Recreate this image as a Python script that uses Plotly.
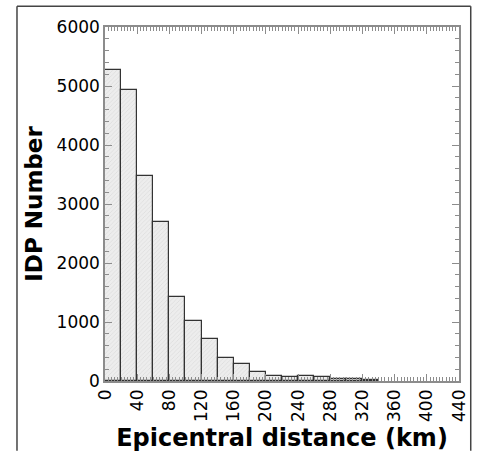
import plotly.graph_objects as go

bin_start = [0, 20, 40, 60, 80, 100, 120, 140, 160, 180, 200, 220, 240, 260, 280, 300, 320]
counts = [5270, 4930, 3480, 2700, 1430, 1010, 717, 383, 280, 148, 92, 72, 88, 62, 38, 30, 10]
bin_width = 20
x_ticks = [0, 40, 80, 120, 160, 200, 240, 280, 320, 360, 400, 440]
y_ticks = [0, 1000, 2000, 3000, 4000, 5000, 6000]

centers = [s + bin_width / 2 for s in bin_start]

fig = go.Figure()
fig.add_trace(go.Bar(
    x=centers, y=counts, width=[bin_width] * len(centers),
    marker=dict(
        color="#ececec",
        line=dict(color="#333333", width=1.2),
        pattern=dict(shape="/", fgcolor="#c4c4c4", bgcolor="#ededed", size=3, solidity=0.2),
    ),
    showlegend=False,
))

font_family = "DejaVu Sans"
axis_common = dict(
    showgrid=False, zeroline=False, showline=True, linecolor="#8c8c8c", linewidth=1.5,
    mirror="ticks", ticks="inside", ticklen=7, tickwidth=1.2, tickcolor="#8c8c8c",
    tickfont=dict(family=font_family, size=17, color="black"),
)

fig.update_xaxes(
    range=[0, 440], tickvals=x_ticks, tickangle=-90,
    minor=dict(ticks="inside", ticklen=4, dtick=4, tickcolor="#8c8c8c", tickwidth=1),
    title=dict(text="<b>Epicentral distance (km)</b>", font=dict(family=font_family, size=24, color="black"), standoff=8),
    **axis_common,
)
fig.update_yaxes(
    range=[0, 6000], tickvals=y_ticks,
    minor=dict(ticks="inside", ticklen=4, dtick=200, tickcolor="#8c8c8c", tickwidth=1),
    title=dict(text="<b>IDP Number</b>", font=dict(family=font_family, size=23, color="black"), standoff=8),
    **axis_common,
)

# outer frame (partial, cropped figure) - kept inside the figure bounds
W_PLOT, H_PLOT, L, T = 362, 360, 105, 27
def px(x):
    return (x - L) / W_PLOT
def py(y):
    return (T + H_PLOT - y) / H_PLOT

frame = dict(color="#444444", width=1.5)
fig.add_shape(type="line", xref="paper", yref="paper", x0=px(15), x1=px(15), y0=py(458), y1=py(6), line=frame)
fig.add_shape(type="line", xref="paper", yref="paper", x0=px(15), x1=px(479), y0=py(6), y1=py(6), line=frame)
fig.add_shape(type="line", xref="paper", yref="paper", x0=px(479), x1=px(479), y0=py(6), y1=py(458), line=frame)

fig.update_layout(
    width=481, height=459,
    margin=dict(l=105, r=14, t=27, b=72),
    plot_bgcolor="white", paper_bgcolor="white",
    bargap=0,
)

fig.write_html("out.html")
